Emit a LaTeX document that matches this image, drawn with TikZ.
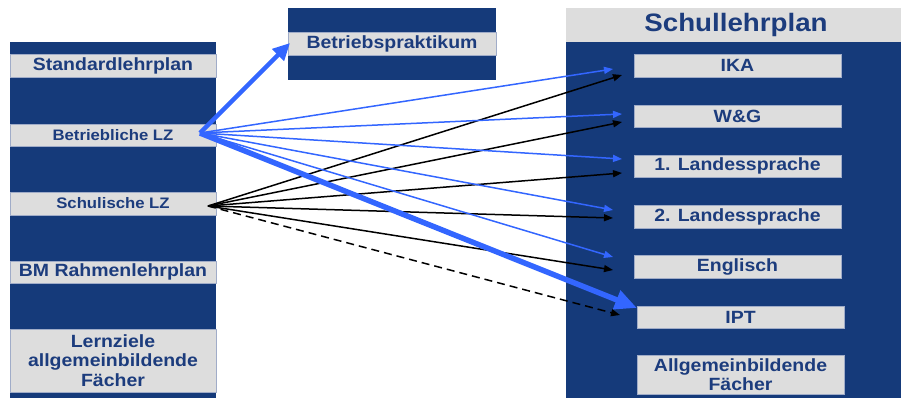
\documentclass[tikz,border=0pt]{standalone}
\usepackage{fontspec}
\newfontfamily\labfont[FakeStretch=1.1]{Liberation Sans Bold}
\usetikzlibrary{arrows.meta}
\definecolor{dkblue}{RGB}{21,58,122}
\definecolor{txtblue}{RGB}{28,60,125}
\definecolor{lgray}{RGB}{221,221,221}
\definecolor{edgec}{RGB}{160,172,200}
\definecolor{arrblue}{RGB}{51,102,255}
\tikzset{
  band/.style={fill=lgray, draw=edgec, line width=0.6pt, inner sep=0pt, text=txtblue,
    font=\labfont\fontsize{17.7}{19.5}\selectfont, align=center},
  smallband/.style={band, font=\labfont\fontsize{15.2}{17}\selectfont},
  thinblue/.style={draw=arrblue, line width=1.5pt, -{Triangle[length=9pt,width=7pt]}},
  thinblack/.style={draw=black, line width=1.5pt, -{Triangle[length=9pt,width=7pt]}},
  thickblue/.style={draw=arrblue, line width=4.5pt, -{Triangle[length=17pt,width=16pt]}},
}
\begin{document}
\begin{tikzpicture}[x=1pt,y=-1pt]
\useasboundingbox (0,0) rectangle (901,398);
% left column
\fill[dkblue] (10,42) rectangle (216,398);
\node[band, minimum width=206pt, minimum height=23pt] (std) at (113,65.5) {Standardlehrplan};
\node[smallband, minimum width=206pt, minimum height=22pt] (betr) at (113,135) {Betriebliche LZ};
\node[smallband, minimum width=206pt, minimum height=23pt] (schul) at (113,203.5) {Schulische LZ};
\node[band, minimum width=206pt, minimum height=22pt] (bm) at (113,272) {BM Rahmenlehrplan};
\node[band, minimum width=206pt, minimum height=63pt] (lern) at (113,360.5) {Lernziele\\allgemeinbildende\\Fächer};
% middle box
\fill[dkblue] (288,8) rectangle (496,80);
\node[band, minimum width=208pt, minimum height=23pt] (prakt) at (392,43.5) {Betriebspraktikum};
% right box
\fill[lgray] (566,8) rectangle (901,42);
\fill[dkblue] (566,42) rectangle (901,398);
\node[text=txtblue, font=\labfont\fontsize{25.2}{28}\selectfont, inner sep=0pt] (title) at (736,25) {Schullehrplan};
\node[band, minimum width=207pt, minimum height=23pt] (ika) at (737.5,65.5) {IKA};
\node[band, minimum width=207pt, minimum height=22pt] (wg) at (737.5,116) {W\&G};
\node[band, minimum width=207pt, minimum height=22pt] (l1) at (737.5,166) {1. Landessprache};
\node[band, minimum width=207pt, minimum height=23pt] (l2) at (737.5,216.5) {2. Landessprache};
\node[band, minimum width=207pt, minimum height=23pt] (eng) at (737.5,266.5) {Englisch};
\node[band, minimum width=207pt, minimum height=22pt] (ipt) at (740.5,317) {IPT};
\node[band, minimum width=207pt, minimum height=39pt] (allg) at (740.5,374.5) {Allgemeinbildende\\Fächer};
% connector anchors
\coordinate (sb) at (200,133);
\coordinate (ss) at (208,206);
\coordinate (tprakt) at (290,43);
\coordinate (tipt) at (637,308);
\coordinate (b1) at (613,69);
\coordinate (b2) at (622,114);
\coordinate (b3) at (622,159);
\coordinate (b4) at (613,210);
\coordinate (b5) at (613,257);
\coordinate (k1) at (622,75);
\coordinate (k2) at (622,122);
\coordinate (k3) at (622,173);
\coordinate (k4) at (613,218);
\coordinate (k5) at (613,270);
\coordinate (kd) at (620,315);
% black arrows
\draw[thinblack] (ss) -- (k1);
\draw[thinblack] (ss) -- (k2);
\draw[thinblack] (ss) -- (k3);
\draw[thinblack] (ss) -- (k4);
\draw[thinblack] (ss) -- (k5);
\draw[thinblack, dashed, dash pattern=on 8pt off 5pt] (ss) -- (kd);
% blue arrows
\draw[thinblue] (sb) -- (b1);
\draw[thinblue] (sb) -- (b2);
\draw[thinblue] (sb) -- (b3);
\draw[thinblue] (sb) -- (b4);
\draw[thinblue] (sb) -- (b5);
\draw[thickblue, line width=4.5pt] (sb) -- (tprakt);
\draw[thickblue, line width=5.5pt, -{Triangle[length=22pt,width=19pt]}] (sb) -- (tipt);
\end{tikzpicture}
\end{document}
